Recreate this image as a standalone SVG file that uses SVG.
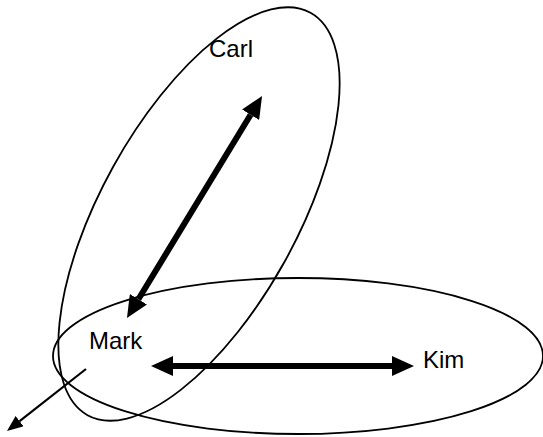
<svg xmlns="http://www.w3.org/2000/svg" width="543" height="437" viewBox="0 0 543 437">
<style>
.grp{fill:none;stroke:#000;stroke-width:1.8}
.lbl{font-family:"Liberation Sans",Arial,sans-serif;font-size:24px;fill:#000}
.thick{stroke:#000;stroke-width:6;fill:none}
.thin{stroke:#000;stroke-width:2.2;fill:none}
</style>
<defs>
<marker id="hb" viewBox="0 0 22 20" refX="0" refY="10" markerWidth="22" markerHeight="20" markerUnits="userSpaceOnUse" orient="auto-start-reverse">
<path d="M0,0 L22,10 L0,20 z" fill="#000"/>
</marker>
<marker id="hs" viewBox="0 0 16 13" refX="0" refY="6.5" markerWidth="16" markerHeight="13" markerUnits="userSpaceOnUse" orient="auto">
<path d="M0,0 L16,6.5 L0,13 z" fill="#000"/>
</marker>
</defs>
<g id="carl">
<ellipse class="grp" cx="199" cy="214" rx="230" ry="98" transform="rotate(-61 199 214)"/>
<text class="lbl" x="209" y="57">Carl</text>
</g>
<g id="kim">
<ellipse class="grp" cx="298" cy="356" rx="245" ry="78"/>
<text class="lbl" x="423" y="368">Kim</text>
</g>
<g id="mark">
<text class="lbl" x="89" y="349">Mark</text>
</g>
<g id="connectors">
<line class="thick" x1="250.6" y1="114.8" x2="138.4" y2="299.2" marker-start="url(#hb)" marker-end="url(#hb)"/>
<line class="thick" x1="173" y1="366" x2="392" y2="366" marker-start="url(#hb)" marker-end="url(#hb)"/>
<line class="thin" x1="86" y1="369" x2="19.6" y2="421.1" marker-end="url(#hs)"/>
</g>
</svg>
